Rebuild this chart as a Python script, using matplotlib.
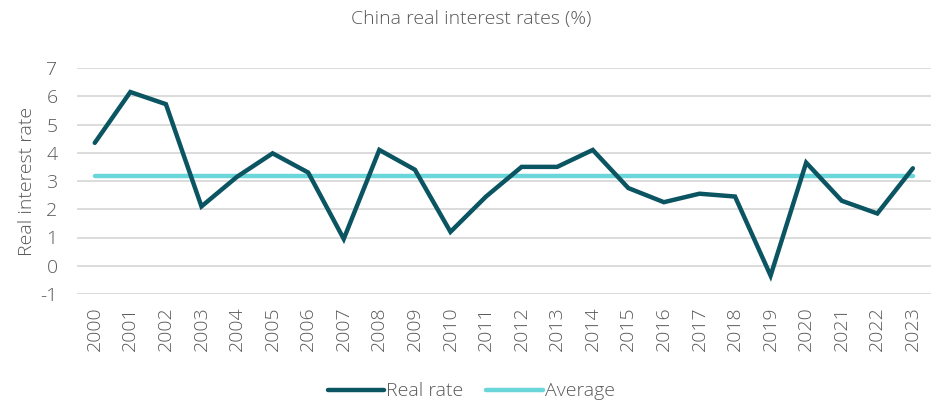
import numpy as np
import matplotlib.pyplot as plt

plt.rcParams['font.family'] = ['Open Sans', 'DejaVu Sans']

years = [str(y) for y in range(2000, 2024)]
real_rate = [4.35, 6.15, 5.72, 2.1, 3.15, 3.98, 3.3, 0.95, 4.1, 3.4, 1.2, 2.45,
             3.5, 3.5, 4.1, 2.75, 2.25, 2.55, 2.45, -0.35, 3.65, 2.3, 1.85, 3.45]
average = [3.18] * len(years)

grey = '#595959'
fs = 14

fig = plt.figure(figsize=(9.33, 4), dpi=100)
ax = fig.add_axes([0.0825, 0.265, 0.915, 0.565])

x = np.arange(len(years))
ax.plot(x, real_rate, color='#0B5563', lw=3.2, solid_capstyle='round',
        solid_joinstyle='miter', label='Real rate', zorder=3)
ax.plot(x, average, color='#6AD6D9', lw=3.2, solid_capstyle='round',
        label='Average', zorder=2)

ax.set_xlim(-0.5, len(years) - 0.5)
ax.set_ylim(-1, 7)
ax.set_yticks(range(-1, 8))
ax.set_yticklabels([str(v) for v in range(-1, 8)])
ax.set_xticks(x)
ax.set_xticklabels(years, rotation=90)
ax.yaxis.grid(True, color='#D9D9D9', lw=1.3)
ax.set_axisbelow(True)
for s in ax.spines.values():
    s.set_visible(False)
ax.tick_params(axis='both', length=0, colors=grey, labelsize=fs)
ax.tick_params(axis='y', pad=14)
ax.tick_params(axis='x', pad=9)
for t in ax.get_xticklabels() + ax.get_yticklabels():
    t.set_fontweight('light')

ax.set_ylabel('Real interest rate', color=grey, fontsize=fs, fontweight='light', labelpad=3)
fig.suptitle('China real interest rates (%)', x=0.505, y=0.975, color=grey,
             fontsize=fs, fontweight='light')

leg = fig.legend(loc='lower center', bbox_to_anchor=(0.505, -0.045), ncol=2, frameon=False,
                 prop={'size': fs, 'weight': 'light'}, handlelength=2.9,
                 handletextpad=0.1, columnspacing=1.2)
for t in leg.get_texts():
    t.set_color(grey)

fig.savefig('out.png', dpi=100)
